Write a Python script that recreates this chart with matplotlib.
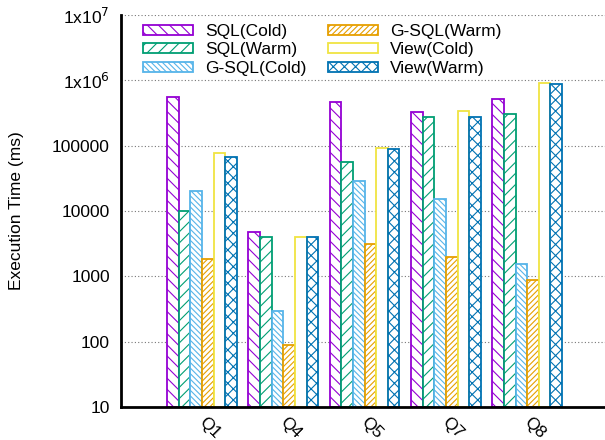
import numpy as np
import matplotlib.pyplot as plt
from matplotlib.transforms import offset_copy

plt.rcParams['font.family'] = ['Liberation Sans', 'DejaVu Sans']
plt.rcParams['hatch.linewidth'] = 0.8

queries = ["Q1", "Q4", "Q5", "Q7", "Q8"]
series = ["SQL(Cold)", "SQL(Warm)", "G-SQL(Cold)", "G-SQL(Warm)", "View(Cold)", "View(Warm)"]

sql_cold = [550000, 4800, 470000, 325000, 513000]
sql_warm = [10000, 4000, 56000, 278000, 302000]
gsql_cold = [20000, 280, 28500, 15000, 1550]
gsql_warm = [1800, 78, 3100, 1950, 870]
view_cold = [78000, 4000, 91000, 343000, 920000]
view_warm = [68000, 4000, 89000, 278000, 890000]

values = [sql_cold, sql_warm, gsql_cold, gsql_warm, view_cold, view_warm]
colors = ["#9400D3", "#009E73", "#56B4E9", "#E69F00", "#F0E442", "#0072B2"]
hatches = ["\\\\\\", "///", "\\\\\\\\\\\\", "//////", "", "xxx"]

fig = plt.figure(figsize=(6.05, 4.4), dpi=100)
ax = fig.add_axes([121 / 605, 33 / 440, 484 / 605, 392 / 440])

x = np.arange(len(queries))
w = 1 / 7
for j, (name, vals) in enumerate(zip(series, values)):
    ax.bar(x + (j - 2.5) * w, vals, width=w, bottom=10, color="white",
           edgecolor=colors[j], hatch=hatches[j], linewidth=1.3, label=name)

ax.set_yscale("log")
ax.set_ylim(10, 1e7)
ax.set_xlim(-0.996, 4.957)
ax.set_yticks([10, 100, 1000, 10000, 100000, 1e6, 1e7])
ax.set_yticklabels(["10", "100", "1000", "10000", "100000",
                    r"1x10$^6$", r"1x10$^7$"])
ax.minorticks_off()
ax.tick_params(axis="y", length=0, labelsize=12.5, pad=8)
ax.set_xticks(x)
ax.set_xticklabels(queries, rotation=-45, ha="left", va="center",
                   rotation_mode="anchor", fontsize=12.5)
ax.tick_params(axis="x", length=0, pad=9)
for lab in ax.get_xticklabels():
    lab.set_transform(offset_copy(lab.get_transform(), fig=fig, x=-1, y=0, units="dots"))
ax.grid(axis="y", color="#777777", linestyle=(0, (1, 2)), linewidth=0.8)
ax.set_axisbelow(True)
for s in ["top", "right"]:
    ax.spines[s].set_visible(False)
for s in ["left", "bottom"]:
    ax.spines[s].set_linewidth(2)
ax.set_ylabel("Execution Time (ms)", fontsize=12.5)
ax.yaxis.set_label_coords(-0.2, 0.5)

ax.legend(ncol=2, loc="upper left", bbox_to_anchor=(0.02, 1.008), frameon=False,
          fontsize=12.5, handlelength=2.9, handleheight=0.5,
          labelspacing=0.2, columnspacing=1.2, handletextpad=0.7,
          borderaxespad=0.3)

fig.savefig("out.png", dpi=100)
